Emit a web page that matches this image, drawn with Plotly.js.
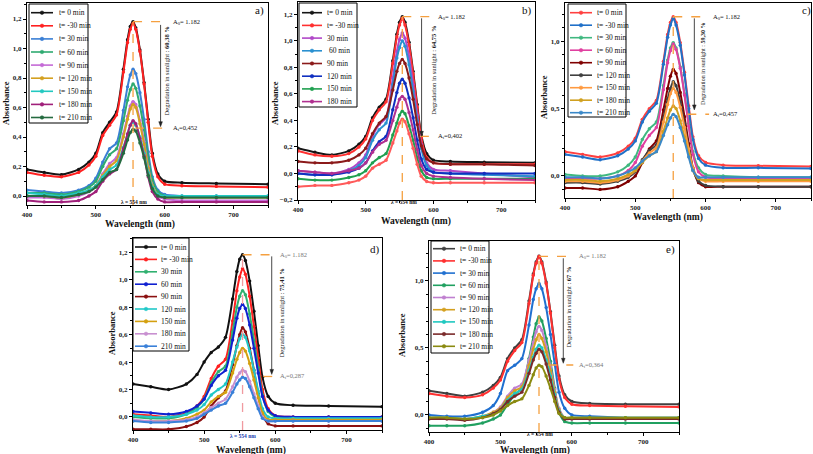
<!DOCTYPE html>
<html><head><meta charset="utf-8">
<script src="https://cdn.plot.ly/plotly-3.0.1.min.js"></script>
<style>html,body{margin:0;padding:0;background:#fff}</style>
</head><body><div id="chart" style="width:813px;height:454px"></div>
<script>
// ---------------- DATA ----------------
const wavelength = [400,425,450,475,490,500,510,520,530,540,546,550,554,558,564,570,576,582,590,600,625,675,750];

// panel a
const legendA = ["t= 0 min","t= -30 min","t= 30 min","t= 60 min","t= 90 min","t= 120 min","t= 150 min","t= 180 min","t= 210 min"];
const a_t0   = [0.18,0.16,0.145,0.18,0.23,0.29,0.43,0.50,0.57,0.86,1.06,1.15,1.182,1.14,0.99,0.77,0.52,0.29,0.15,0.10,0.09,0.085,0.08];
const a_tm30 = [0.16,0.14,0.13,0.16,0.21,0.27,0.41,0.48,0.55,0.84,1.04,1.13,1.17,1.13,0.98,0.76,0.50,0.27,0.13,0.08,0.07,0.065,0.06];
const a_t30  = [0.04,0.03,0.02,0.04,0.07,0.12,0.23,0.32,0.36,0.58,0.74,0.82,0.86,0.83,0.70,0.52,0.30,0.13,0.04,0.01,0.0,0.0,0.0];
const a_t60  = [0.02,0.02,0.01,0.03,0.06,0.10,0.20,0.28,0.32,0.51,0.65,0.72,0.76,0.73,0.61,0.45,0.26,0.11,0.03,0.0,-0.01,-0.01,-0.01];
const a_t90  = [-0.01,-0.01,-0.02,0.0,0.03,0.07,0.15,0.22,0.26,0.42,0.54,0.61,0.64,0.62,0.51,0.37,0.20,0.07,0.0,-0.02,-0.03,-0.03,-0.03];
const a_t120 = [0.0,0.0,-0.01,0.01,0.04,0.07,0.14,0.20,0.24,0.40,0.52,0.59,0.62,0.60,0.49,0.35,0.19,0.07,0.01,-0.01,-0.01,-0.01,-0.01];
const a_t150 = [0.02,0.01,0.0,0.02,0.04,0.07,0.13,0.18,0.21,0.33,0.42,0.48,0.50,0.48,0.40,0.29,0.16,0.06,0.01,0.0,0.0,0.0,0.0];
const a_t180 = [-0.03,-0.04,-0.04,-0.03,0.0,0.03,0.10,0.15,0.18,0.32,0.42,0.48,0.51,0.49,0.39,0.27,0.13,0.03,-0.02,-0.04,-0.04,-0.04,-0.04];
const a_t210 = [0.0,0.0,-0.01,0.01,0.03,0.06,0.11,0.16,0.18,0.29,0.38,0.43,0.452,0.44,0.36,0.26,0.14,0.05,0.0,-0.01,-0.01,-0.01,-0.01];

// panel b
const legendB = ["t= 0 min","t= -30 min","30 min"," 60 min","90 min","120 min","150 min","180 min","210 min"];
const b_t0   = [0.19,0.16,0.14,0.17,0.22,0.28,0.42,0.50,0.56,0.85,1.05,1.14,1.182,1.14,0.99,0.77,0.52,0.29,0.15,0.10,0.09,0.085,0.08];
const b_tm30 = [0.17,0.14,0.13,0.15,0.20,0.26,0.40,0.48,0.54,0.83,1.03,1.12,1.17,1.12,0.97,0.75,0.50,0.27,0.12,0.08,0.07,0.07,0.07];
const b_t30  = [0.02,0.01,0.0,0.03,0.08,0.14,0.28,0.37,0.42,0.72,0.92,1.01,1.06,1.02,0.88,0.67,0.44,0.22,0.08,0.03,0.02,0.0,-0.03];
const b_t60  = [0.0,-0.01,-0.01,0.02,0.06,0.12,0.25,0.33,0.38,0.67,0.87,0.95,1.0,0.96,0.82,0.62,0.40,0.19,0.06,0.01,0.0,-0.01,-0.02];
const b_t90  = [0.09,0.08,0.08,0.10,0.14,0.19,0.30,0.38,0.43,0.63,0.77,0.83,0.86,0.83,0.72,0.56,0.37,0.21,0.11,0.08,0.07,0.07,0.06];
const b_t120 = [0.0,-0.01,-0.01,0.01,0.04,0.08,0.17,0.24,0.28,0.48,0.61,0.68,0.71,0.68,0.57,0.42,0.25,0.11,0.03,0.01,0.0,0.0,0.0];
const b_t150 = [-0.04,-0.05,-0.05,-0.03,-0.01,0.02,0.08,0.12,0.15,0.29,0.38,0.44,0.47,0.45,0.36,0.25,0.12,0.02,-0.03,-0.04,-0.04,-0.04,-0.04];
const b_t180 = [0.02,0.01,0.0,0.02,0.04,0.08,0.16,0.22,0.25,0.40,0.50,0.56,0.58,0.56,0.46,0.33,0.18,0.06,0.0,-0.02,-0.03,-0.04,-0.05];
const b_t210 = [-0.10,-0.09,-0.09,-0.07,-0.05,-0.02,0.04,0.07,0.10,0.23,0.32,0.38,0.41,0.39,0.30,0.19,0.07,-0.02,-0.06,-0.07,-0.07,-0.07,-0.07];

// panel c
const legendC = ["t= 0 min","t= -30 min","t= 30 min","t= 60 min","t= 90 min","t= 120 min","t= 150 min","t= 180 min","t= 210 min"];
const c_t0   = [0.18,0.16,0.14,0.17,0.22,0.28,0.42,0.50,0.56,0.85,1.05,1.14,1.182,1.14,0.99,0.77,0.52,0.29,0.15,0.10,0.08,0.075,0.07];
const c_tm30 = [0.16,0.14,0.12,0.15,0.20,0.26,0.40,0.48,0.54,0.83,1.03,1.12,1.17,1.12,0.97,0.75,0.50,0.27,0.13,0.08,0.06,0.06,0.055];
const c_t30  = [0.01,0.0,0.0,0.03,0.08,0.14,0.27,0.35,0.40,0.67,0.86,0.95,0.99,0.95,0.81,0.61,0.39,0.18,0.06,0.01,0.0,-0.01,-0.01];
const c_t60  = [-0.02,-0.02,-0.02,0.0,0.04,0.10,0.22,0.30,0.36,0.64,0.84,0.93,0.98,0.94,0.80,0.60,0.37,0.16,0.03,-0.01,-0.02,-0.02,-0.02];
const c_t90  = [-0.09,-0.09,-0.10,-0.08,-0.04,0.0,0.10,0.20,0.26,0.49,0.65,0.74,0.79,0.76,0.62,0.44,0.24,0.06,-0.05,-0.08,-0.08,-0.08,-0.08];
const c_t120 = [-0.05,-0.05,-0.06,-0.04,-0.01,0.03,0.12,0.19,0.23,0.43,0.57,0.65,0.70,0.67,0.55,0.39,0.21,0.05,-0.04,-0.07,-0.08,-0.08,-0.08];
const c_t150 = [-0.04,-0.04,-0.05,-0.03,0.0,0.04,0.11,0.17,0.21,0.40,0.53,0.61,0.65,0.62,0.51,0.36,0.20,0.06,-0.02,-0.04,-0.04,-0.04,-0.04];
const c_t180 = [-0.03,-0.03,-0.04,-0.02,0.01,0.04,0.10,0.15,0.18,0.33,0.43,0.49,0.52,0.50,0.41,0.29,0.16,0.04,-0.02,-0.03,-0.03,-0.03,-0.03];
const c_t210 = [-0.01,-0.01,-0.02,0.0,0.03,0.06,0.11,0.15,0.18,0.30,0.38,0.43,0.457,0.44,0.36,0.26,0.14,0.04,-0.01,-0.01,-0.01,-0.01,-0.01];

// panel d
const legendD = ["t= 0 min","t= -30 min","30 min","60 min","90 min","120 min","150 min","180 min","210 min"];
const d_t0   = [0.24,0.22,0.20,0.24,0.31,0.40,0.47,0.51,0.58,0.86,1.06,1.15,1.182,1.14,0.99,0.77,0.52,0.29,0.15,0.10,0.085,0.08,0.075];
const d_tm30 = [0.02,0.01,0.0,0.03,0.08,0.15,0.28,0.37,0.42,0.70,0.92,1.02,1.08,1.04,0.88,0.66,0.43,0.20,0.06,0.01,0.0,0.0,0.0];
const d_t30  = [0.0,-0.01,-0.01,0.02,0.07,0.13,0.25,0.33,0.37,0.62,0.80,0.88,0.92,0.89,0.75,0.56,0.36,0.16,0.04,0.0,-0.01,-0.01,-0.01];
const d_t60  = [0.04,0.03,0.02,0.04,0.08,0.13,0.23,0.30,0.34,0.56,0.72,0.79,0.82,0.79,0.67,0.50,0.32,0.15,0.05,0.01,0.0,0.0,0.0];
const d_t90  = [-0.09,-0.09,-0.09,-0.07,-0.04,0.0,0.08,0.14,0.19,0.38,0.52,0.60,0.65,0.62,0.50,0.34,0.17,0.02,-0.05,-0.065,-0.065,-0.065,-0.065];
const d_t120 = [0.01,0.0,0.0,0.02,0.05,0.09,0.16,0.20,0.24,0.40,0.51,0.57,0.60,0.58,0.48,0.34,0.19,0.06,0.0,-0.01,-0.01,-0.01,-0.01];
const d_t150 = [-0.03,-0.03,-0.03,-0.01,0.02,0.05,0.11,0.15,0.18,0.32,0.42,0.47,0.50,0.48,0.39,0.27,0.14,0.03,-0.02,-0.02,-0.02,-0.02,-0.02];
const d_t180 = [-0.02,-0.03,-0.03,-0.02,0.0,0.03,0.07,0.10,0.13,0.22,0.29,0.32,0.34,0.33,0.26,0.17,0.08,0.0,-0.03,-0.03,-0.03,-0.03,-0.03];
const d_t210 = [-0.03,-0.04,-0.04,-0.03,-0.01,0.02,0.05,0.08,0.10,0.18,0.24,0.27,0.29,0.28,0.22,0.14,0.06,-0.01,-0.03,-0.03,-0.03,-0.03,-0.03];

// panel e
const legendE = ["t= 0 min","t= -30 min","t= 30 min","t= 60 min","t= 90 min","t= 120 min","t= 150 min","t= 180 min","t= 210 min"];
const e_t0   = [0.18,0.16,0.14,0.17,0.22,0.28,0.42,0.50,0.56,0.85,1.05,1.14,1.182,1.14,0.99,0.77,0.52,0.29,0.15,0.10,0.085,0.08,0.08];
const e_tm30 = [0.16,0.14,0.13,0.15,0.20,0.26,0.40,0.48,0.54,0.83,1.04,1.13,1.18,1.13,0.98,0.76,0.50,0.27,0.13,0.08,0.07,0.065,0.06];
const e_t30  = [0.0,-0.01,-0.01,0.02,0.07,0.16,0.33,0.37,0.42,0.67,0.86,0.94,0.98,0.94,0.80,0.60,0.38,0.17,0.05,0.0,-0.01,-0.02,-0.02];
const e_t60  = [-0.08,-0.08,-0.08,-0.06,-0.03,0.0,0.08,0.15,0.20,0.42,0.58,0.68,0.73,0.70,0.57,0.40,0.20,0.02,-0.05,-0.06,-0.06,-0.06,-0.06];
const e_t90  = [-0.02,-0.02,-0.03,-0.01,0.02,0.06,0.14,0.20,0.23,0.41,0.54,0.62,0.66,0.63,0.51,0.36,0.19,0.05,-0.02,-0.03,-0.03,-0.03,-0.03];
const e_t120 = [-0.02,-0.02,-0.03,-0.01,0.02,0.05,0.13,0.18,0.21,0.37,0.49,0.56,0.60,0.57,0.47,0.33,0.17,0.04,-0.02,-0.02,-0.02,-0.02,-0.02];
const e_t150 = [-0.02,-0.02,-0.03,-0.01,0.01,0.04,0.11,0.16,0.19,0.33,0.43,0.49,0.52,0.50,0.41,0.29,0.15,0.03,-0.02,-0.02,-0.02,-0.02,-0.02];
const e_t180 = [-0.03,-0.03,-0.04,-0.02,0.01,0.04,0.10,0.14,0.17,0.31,0.41,0.46,0.49,0.47,0.38,0.26,0.13,0.02,-0.03,-0.03,-0.03,-0.03,-0.03];
const e_t210 = [-0.02,-0.02,-0.03,-0.02,0.0,0.03,0.07,0.10,0.12,0.22,0.30,0.35,0.37,0.36,0.29,0.20,0.10,0.01,-0.02,-0.02,-0.02,-0.02,-0.02];

// annotation texts
const panelLabels = ["a)","b)","c)","d)","e)"];
const a0Labels = ["A<sub>0</sub>= 1.182","A<sub>0</sub>= 1.182","A<sub>0</sub>= 1.182","A<sub>0</sub>= 1.182","A<sub>0</sub>= 1.182"];
const atLabels = ["A<sub>t</sub>=0,452","A<sub>t</sub>=0,402","A<sub>t</sub>=0,457","A<sub>t</sub>=0,287","A<sub>t</sub>=0,364"];
const degLabels = ["60,38 %","64,75 %","59,30 %","75,41 %","67 %"];
const peakLabel = "λ = 554 nm";

// ---------------- STYLE / LAYOUT ----------------
const W = 813, H = 454;
const SERIF = "Liberation Serif, Times New Roman, serif";
const px = v => v / W;
const py = v => 1 - v / H;

const panels = [
  { series:[a_t0,a_tm30,a_t30,a_t60,a_t90,a_t120,a_t150,a_t180,a_t210], names:legendA, inLegend:9,
    colors:["#151515","#ff2020","#3a7fd5","#2eaa70","#c46ad6","#d4a020","#22c8c0","#a0207a","#256b40"],
    box:[27,268,3,205], yr:[-0.061,1.3085], dtick:0.2,
    leg:{x0:29,x1:88,y0:4,y1:123,cy:12.7,step:13.1,l0:31,l1:53,tx:57},
    top:[602,609], bot:[557,602,0.46], arrow:[594,1.16,0.47], deg:[603,0.85,6.5], vline:"#f5a040",
    lam:[556,202,"#222"], lab:[259,11], a0col:"#111",
    ytitle:[6,103], xtitle:[140,225] },
  { series:[b_t0,b_tm30,b_t30,b_t60,b_t90,b_t120,b_t150,b_t180,b_t210], names:legendB, inLegend:8,
    colors:["#151515","#ff3030","#b048c8","#2a90d0","#8b1a1a","#1030c0","#20a050","#b03090","#ff5a5a"],
    box:[298,535,2,200], yr:[-0.2,1.293], dtick:0.2,
    leg:{x0:299,x1:357,y0:3,y1:107,cy:12.7,step:12.7,l0:302,l1:322,tx:325},
    top:[602,604], bot:[580,602,0.28], arrow:[582.5,1.17,0.28], deg:[599,0.78,6.5], vline:"#f5a040",
    lam:[556.6,202,"#222"], lab:[527,11], a0col:"#111",
    ytitle:[275,103], xtitle:[416,221] },
  { series:[c_t0,c_tm30,c_t30,c_t60,c_t90,c_t120,c_t150,c_t180,c_t210], names:legendC, inLegend:9,
    colors:["#ff4040","#2070c8","#40b880","#e040a0","#800000","#404040","#ff9a40","#d0a020","#3a88c8"],
    box:[565,811,3,198], yr:[-0.164,1.284], dtick:0.5,
    leg:{x0:568,x1:626,y0:4,y1:117,cy:12.7,step:12.5,l0:570,l1:592,tx:595},
    top:[605,608], bot:[574,605,0.458], arrow:[584,1.17,0.49], deg:[596,0.83,6],
    vline:"#f5a040", lam:null, lab:[806,11], a0col:"#111",
    ytitle:[544,97], xtitle:[668,218] },
  { series:[d_t0,d_tm30,d_t30,d_t60,d_t90,d_t120,d_t150,d_t180,d_t210], names:legendD, inLegend:9,
    colors:["#111111","#ff2020","#30b070","#1020d0","#8b1010","#20c8c8","#d4a010","#c890d0","#3a80d8"],
    box:[133,382,238,430], yr:[-0.095,1.304], dtick:0.2,
    leg:{x0:133,x1:189,y0:238,y1:351,cy:247,step:12.4,l0:135,l1:157,tx:159},
    top:[600,604], bot:[583,600,0.295], arrow:[595,1.17,0.31], deg:[609,0.76,6.5], vline:"#f09aa0",
    lam:[555,436,"#2040b0"], lab:[375,249], a0col:"#777",
    ytitle:[112,333], xtitle:[251,450] },
  { series:[e_t0,e_tm30,e_t30,e_t60,e_t90,e_t120,e_t150,e_t180,e_t210], names:legendE, inLegend:9,
    colors:["#404040","#ff3030","#2070d0","#20a060","#c080d0","#d4a020","#20c8c0","#7a2a2a","#8a8a10"],
    box:[429,679,241,432], yr:[-0.127,1.296], dtick:0.5,
    leg:{x0:431,x1:489,y0:241,y1:353,cy:248.7,step:12.2,l0:433,l1:455,tx:458},
    top:[602,607], bot:[567,602,0.372], arrow:[588,1.167,0.385], deg:[596,0.80,6.5], vline:"#f5a040",
    lam:[556,434,"#222"], lab:[670,249], a0col:"#777",
    ytitle:[402,335], xtitle:[535,450] }
];

const traces = [], shapes = [], annotations = [];
const layout = {
  width: W, height: H, margin:{l:0,r:0,t:0,b:0},
  paper_bgcolor:"#fff", plot_bgcolor:"#fff", showlegend:false,
  separators:", ", font:{family:SERIF, color:"#111"}
};

panels.forEach((p, i) => {
  const sfx = i === 0 ? "" : String(i + 1);
  const xa = "x" + sfx, ya = "y" + sfx;
  const pxW = p.box[1] - p.box[0], pxH = p.box[3] - p.box[2];
  const nmPerPx = 350 / pxW, unitPerPx = (p.yr[1] - p.yr[0]) / pxH;
  layout["xaxis" + sfx] = {
    domain:[px(p.box[0]), px(p.box[1])], range:[400,750], anchor:ya,
    tick0:400, dtick:100, ticks:"outside", ticklen:3, tickcolor:"#000",
    showline:true, linecolor:"#000", linewidth:1, mirror:true,
    showgrid:false, zeroline:false,
    tickfont:{family:SERIF, size:7, color:"#222", weight:"bold"},
    minor:{ticks:"outside", ticklen:2, dtick:50, tick0:400, tickcolor:"#000", showgrid:false}
  };
  layout["yaxis" + sfx] = {
    domain:[py(p.box[3]), py(p.box[2])], range:p.yr, anchor:xa,
    tick0:0, dtick:p.dtick, tickformat:".1f", ticks:"outside", ticklen:3, tickcolor:"#000",
    showline:true, linecolor:"#000", linewidth:1, mirror:true,
    showgrid:false, zeroline:false,
    tickfont:{family:SERIF, size:7, color:"#222", weight:"bold"},
    minor:{ticks:"outside", ticklen:2, dtick:0.1, tick0:0, tickcolor:"#000", showgrid:false}
  };

  // curves
  p.series.forEach((ys, j) => {
    traces.push({
      type:"scatter", mode:"lines+markers", x:wavelength, y:ys, name:p.names[j],
      xaxis:xa, yaxis:ya, cliponaxis:true,
      line:{color:p.colors[j], width:2, shape:"spline", smoothing:0.7},
      marker:{color:p.colors[j], size:3.4, symbol:"circle"}
    });
  });

  // custom legend box
  const L = p.leg;
  shapes.push({type:"rect", xref:"paper", yref:"paper", x0:px(L.x0), x1:px(L.x1), y0:py(L.y1), y1:py(L.y0),
               line:{color:"#000", width:1}, fillcolor:"rgba(255,255,255,1)", layer:"above"});
  for (let j = 0; j < p.inLegend; j++) {
    const cy = L.cy + j * L.step;
    const cx = (L.l0 + L.l1) / 2;
    shapes.push({type:"line", xref:"paper", yref:"paper", x0:px(L.l0), x1:px(L.l1), y0:py(cy), y1:py(cy),
                 line:{color:p.colors[j], width:1.6}, layer:"above"});
    shapes.push({type:"circle", xref:"paper", yref:"paper", x0:px(cx-1.8), x1:px(cx+1.8), y0:py(cy+1.8), y1:py(cy-1.8),
                 line:{color:p.colors[j], width:0.5}, fillcolor:p.colors[j], layer:"above"});
    annotations.push({xref:"paper", yref:"paper", x:px(L.tx), y:py(cy), xanchor:"left", yanchor:"middle",
                      text:p.names[j], showarrow:false, font:{family:SERIF, size:7.5, color:"#111"}});
  }

  // orange dashed guides
  const y0 = p.yr[0];
  shapes.push({type:"line", xref:xa, yref:ya, x0:554, x1:554, y0:y0, y1:1.182,
               line:{color:p.vline, width:1.3, dash:"dash"}});
  shapes.push({type:"line", xref:xa, yref:ya, x0:554, x1:p.top[0], y0:1.182, y1:1.182,
               line:{color:"#f5a040", width:1.3, dash:"dash"}});
  shapes.push({type:"line", xref:xa, yref:ya, x0:p.bot[0], x1:p.bot[1], y0:p.bot[2], y1:p.bot[2],
               line:{color:"#f5a040", width:1.3, dash:"dash"}});
  annotations.push({xref:xa, yref:ya, x:p.top[1], y:1.182, xanchor:"left", yanchor:"middle",
                    text:a0Labels[i], showarrow:false, font:{family:SERIF, size:6.5, color:p.a0col}});
  annotations.push({xref:xa, yref:ya, x:p.top[1], y:p.bot[2], xanchor:"left", yanchor:"middle",
                    text:atLabels[i], showarrow:false, font:{family:SERIF, size:6.5, color:p.a0col}});
  // downward arrow: shaft + head (head size in pixels converted to data units)
  const ax = p.arrow[0], aTop = p.arrow[1], aTip = p.arrow[2];
  const hw = 1.8 * nmPerPx, hh = 5 * unitPerPx;
  shapes.push({type:"line", xref:xa, yref:ya, x0:ax, x1:ax, y0:aTop, y1:aTip + hh * 0.6,
               line:{color:"#333", width:0.9}});
  shapes.push({type:"path", xref:xa, yref:ya,
               path:`M ${ax} ${aTip} L ${ax - hw} ${aTip + hh} L ${ax + hw} ${aTip + hh} Z`,
               fillcolor:"#222", line:{color:"#222", width:0.5}});
  // rotated degradation text
  annotations.push({xref:xa, yref:ya, x:p.deg[0], y:p.deg[1], textangle:-90, xanchor:"center", yanchor:"middle",
                    text:"Degradation in sunlight : <b>" + degLabels[i] + "</b>", showarrow:false,
                    font:{family:SERIF, size:p.deg[2], color:"#222"}});
  // peak wavelength label
  if (p.lam) {
    annotations.push({xref:xa, yref:"paper", x:p.lam[0], y:py(p.lam[1]), xanchor:"center", yanchor:"middle",
                      text:"<b>" + peakLabel + "</b>", showarrow:false, font:{family:SERIF, size:5.5, color:p.lam[2]}});
  }
  // panel label
  annotations.push({xref:"paper", yref:"paper", x:px(p.lab[0]), y:py(p.lab[1]), xanchor:"center", yanchor:"middle",
                    text:panelLabels[i], showarrow:false, font:{family:SERIF, size:11, color:"#111"}});
  // axis titles
  annotations.push({xref:"paper", yref:"paper", x:px(p.ytitle[0]), y:py(p.ytitle[1]), textangle:-90,
                    xanchor:"center", yanchor:"middle", text:"<b>Absorbance</b>", showarrow:false,
                    font:{family:SERIF, size:8.5, color:"#111"}});
  annotations.push({xref:"paper", yref:"paper", x:px(p.xtitle[0]), y:py(p.xtitle[1]),
                    xanchor:"center", yanchor:"middle", text:"<b>Wavelength (nm)</b>", showarrow:false,
                    font:{family:SERIF, size:9.5, color:"#111"}});
});

layout.shapes = shapes;
layout.annotations = annotations;
Plotly.newPlot("chart", traces, layout, {displayModeBar:false, staticPlot:true});
</script></body></html>
